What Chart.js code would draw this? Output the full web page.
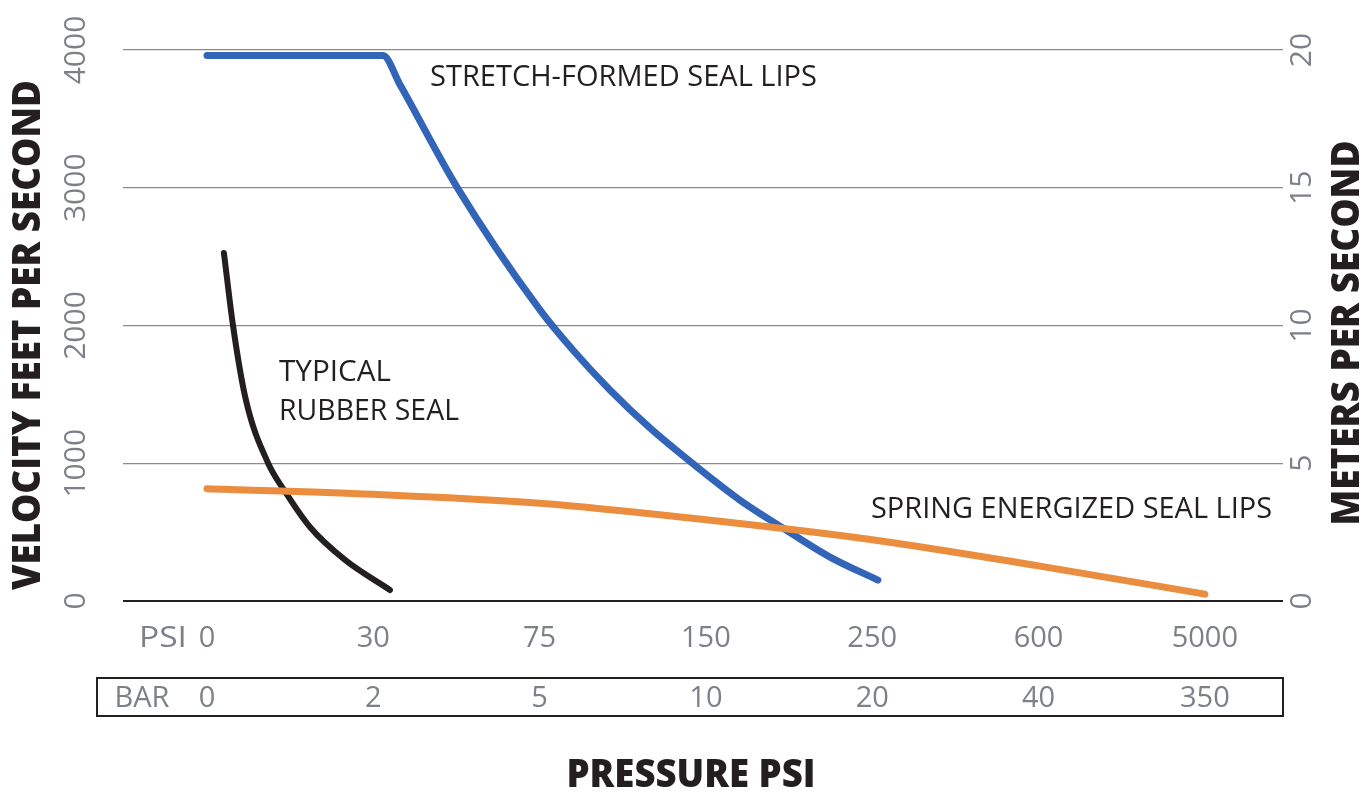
<!DOCTYPE html>
<html>
<head>
<meta charset="utf-8">
<script src="https://cdn.jsdelivr.net/npm/chart.js@4.4.1/dist/chart.umd.min.js"></script>
<style>
  html, body { margin: 0; padding: 0; background: #fff; }
  canvas { display: block; }
</style>
</head>
<body>
<canvas id="chart" width="1365" height="793"></canvas>
<script>
// pressure columns (x positions 0..6)
const psiLabels = ['0', '30', '75', '150', '250', '600', '5000'];
const barLabels = ['0', '2', '5', '10', '20', '40', '350'];
const ftTicks = [0, 1000, 2000, 3000, 4000];
const mTicks = [0, 5, 10, 15, 20];

// curves: x = column position, y = feet per second
const stretchX = [0, 1.058, 1.16, 1.503, 2.002, 2.2, 2.423, 2.663, 2.946, 3.204, 3.463, 3.746, 4.034];
const stretchY = [3960, 3960, 3749, 3005, 2113, 1822, 1532, 1256, 973, 733, 530, 319, 152];

const rubberX = [0.102, 0.156, 0.234, 0.367, 0.463, 0.619, 0.83, 1.1];
const rubberY = [2526, 2004, 1459, 1002, 806, 537, 298, 80];

const springX = [0, 1, 2, 3, 4, 5, 6];
const springY = [815, 775, 710, 590, 445, 255, 50];

const pts = (xs, ys) => xs.map((x, i) => ({ x: x, y: ys[i] }));

const GRAY = '#7d8089';
const INK = '#231f20';

// draw text centred on its cap height, optionally squeezed to a width
function text(c, str, x, y, o) {
    c.save();
    c.translate(x, y);
    if (o.rotate) c.rotate(o.rotate);
    c.font = (o.weight || '400') + ' ' + o.size + 'px "Open Sans"';
    c.fillStyle = o.color || INK;
    c.textBaseline = 'alphabetic';
    if (o.width) c.scale(o.width / c.measureText(str).width, 1);
    c.textAlign = o.align || 'center';
    c.fillText(str, 0, o.size * 0.357);
    c.restore();
}

const labelsPlugin = {
    id: 'labels',
    afterDraw(chart) {
        const c = chart.ctx;
        const xs = chart.scales.x, ys = chart.scales.y, ms = chart.scales.y2;
        const area = chart.chartArea;

        ftTicks.forEach(v => text(c, String(v), 74, ys.getPixelForValue(v), { size: 30, color: GRAY, rotate: -Math.PI / 2 }));
        mTicks.forEach(v => text(c, String(v), 1300, ms.getPixelForValue(v), { size: 30, color: GRAY, rotate: -Math.PI / 2 }));

        text(c, 'VELOCITY FEET PER SECOND', 26, 335, { size: 39, weight: '800', rotate: -Math.PI / 2, width: 510 });
        text(c, 'METERS PER SECOND', 1345, 333, { size: 39, weight: '800', rotate: -Math.PI / 2, width: 385 });

        // PSI row
        text(c, 'PSI', 163, 637, { size: 29, color: GRAY, width: 48 });
        psiLabels.forEach((l, i) => text(c, l, xs.getPixelForValue(i), 637, { size: 29, color: GRAY }));

        // BAR row in its box
        c.save();
        c.strokeStyle = INK;
        c.lineWidth = 2;
        c.strokeRect(97, 678, area.right - 97, 38);
        c.restore();
        text(c, 'BAR', 142, 697, { size: 29, color: GRAY });
        barLabels.forEach((l, i) => text(c, l, xs.getPixelForValue(i), 697, { size: 29, color: GRAY }));

        text(c, 'PRESSURE PSI', 691, 773, { size: 39, weight: '800', width: 249 });

        // curve names
        text(c, 'STRETCH-FORMED SEAL LIPS', 430, 76, { size: 29, align: 'left', width: 387 });
        text(c, 'TYPICAL', 279, 371, { size: 29, align: 'left', width: 112 });
        text(c, 'RUBBER SEAL', 279, 410, { size: 29, align: 'left', width: 180 });
        text(c, 'SPRING ENERGIZED SEAL LIPS', 871, 508, { size: 29, align: 'left', width: 401 });
    }
};

const lineStyle = {
    borderWidth: 7,
    pointRadius: 0,
    fill: false,
    borderCapStyle: 'round',
    borderJoinStyle: 'round',
    cubicInterpolationMode: 'monotone'
};

new Chart(document.getElementById('chart'), {
    type: 'line',
    data: {
        datasets: [
            { ...lineStyle, label: 'Spring energized seal lips', data: pts(springX, springY), borderColor: '#eb8d3e' },
            { ...lineStyle, label: 'Typical rubber seal', data: pts(rubberX, rubberY), borderColor: INK, borderWidth: 6 },
            { ...lineStyle, label: 'Stretch-formed seal lips', data: pts(stretchX, stretchY), borderColor: '#3264b8' }
        ]
    },
    options: {
        responsive: false,
        animation: false,
        layout: { padding: { left: 123, right: 82, top: 50, bottom: 192 } },
        plugins: {
            legend: { display: false },
            tooltip: { enabled: false }
        },
        scales: {
            x: {
                type: 'linear',
                min: -0.505,
                max: 6.47,
                ticks: { display: false },
                grid: { display: false, drawTicks: false },
                border: { display: false }
            },
            y: {
                position: 'left',
                min: 0,
                max: 4000,
                afterBuildTicks: s => { s.ticks = ftTicks.map(v => ({ value: v })); },
                ticks: { display: false },
                grid: {
                    drawTicks: false,
                    color: ctx => ctx.tick && ctx.tick.value === 0 ? INK : '#8c8c8c',
                    lineWidth: ctx => ctx.tick && ctx.tick.value === 0 ? 2 : 1.3
                },
                border: { display: false }
            },
            y2: {
                position: 'right',
                min: 0,
                max: 20,
                ticks: { display: false },
                grid: { display: false, drawTicks: false },
                border: { display: false }
            }
        }
    },
    plugins: [labelsPlugin]
});
</script>
</body>
</html>
